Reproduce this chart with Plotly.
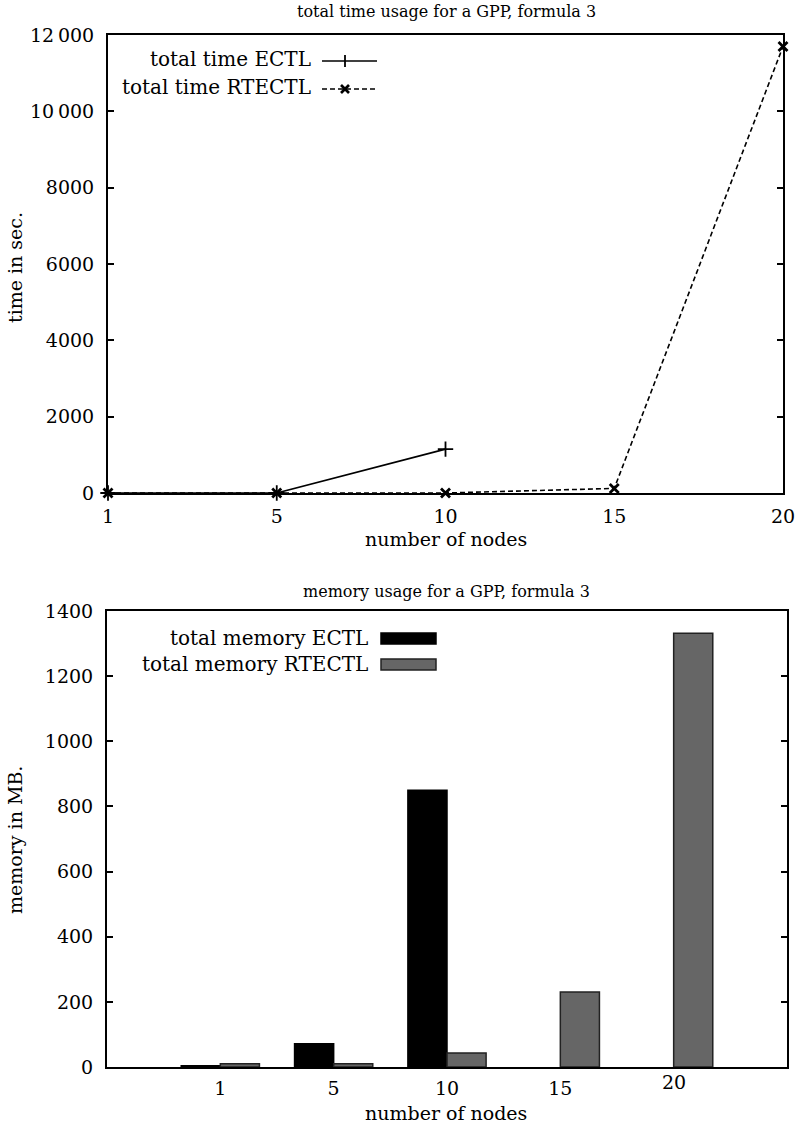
import plotly.graph_objects as go

W, H = 795, 1128

# ---------------- data ----------------
nodes = ["1", "5", "10", "15", "20"]
time_ectl = [0, 0, 1150]                 # ECTL only up to 10 nodes
time_rtectl = [0, 0, 0, 120, 11700]
time_ticks = [0, 2000, 4000, 6000, 8000, 10000, 12000]
time_tick_text = ["0", "2000", "4000", "6000", "8000", "10\u2009000", "12\u2009000"]

mem_ectl = [4, 71, 850, None, None]      # no ECTL result for 15 and 20 nodes
mem_rtectl = [10, 10, 43, 230, 1332]
mem_ticks = [0, 200, 400, 600, 800, 1000, 1200, 1400]

FONT = "DejaVu Serif"


def px(x):
    """screen pixel x -> paper fraction"""
    return x / W


def py(y):
    """screen pixel y -> paper fraction"""
    return 1 - y / H


# plot-area boxes in screen pixels
TOP = dict(l=108, r=783, t=35, b=493)
BOT = dict(l=107, r=787, t=611, b=1067)

fig = go.Figure()

# top chart: lines
fig.add_trace(go.Scatter(
    x=nodes[:len(time_ectl)], y=time_ectl, mode="lines+markers",
    name="total time ECTL", showlegend=False,
    line=dict(color="black", width=1.6),
    marker=dict(symbol="cross-thin", size=11, line=dict(color="black", width=1.8)),
    cliponaxis=False, xaxis="x", yaxis="y"))
fig.add_trace(go.Scatter(
    x=nodes, y=time_rtectl, mode="lines+markers",
    name="total time RTECTL", showlegend=False,
    line=dict(color="black", width=1.6, dash="5px,3px"),
    marker=dict(symbol="x-thin", size=9, line=dict(color="black", width=2.8)),
    cliponaxis=False, xaxis="x", yaxis="y"))

# bottom chart: bars
fig.add_trace(go.Bar(
    x=nodes, y=mem_ectl, name="total memory ECTL", showlegend=False,
    marker=dict(color="black", line=dict(color="black", width=1.5)),
    xaxis="x2", yaxis="y2"))
fig.add_trace(go.Bar(
    x=nodes, y=mem_rtectl, name="total memory RTECTL", showlegend=False,
    marker=dict(color="#666666", line=dict(color="#222222", width=1.5)),
    xaxis="x2", yaxis="y2"))

axis_common = dict(showline=True, linecolor="black", linewidth=2, mirror="ticks",
                   showgrid=False, zeroline=False, automargin=False,
                   tickfont=dict(family=FONT, size=19, color="black"))

fig.update_layout(
    template="none",
    width=W, height=H,
    margin=dict(l=0, r=0, t=0, b=0, pad=0),
    paper_bgcolor="white", plot_bgcolor="white",
    font=dict(family=FONT, size=19, color="black"),
    barmode="group", bargap=0.31, bargroupgap=0,
    xaxis=dict(domain=[px(TOP["l"]), px(TOP["r"])], anchor="y",
               type="category", range=[0, 4], ticks="",
               ticklabelstandoff=5, **axis_common),
    yaxis=dict(domain=[py(TOP["b"]), py(TOP["t"])], anchor="x",
               range=[0, 12000], tickvals=time_ticks, ticktext=time_tick_text,
               ticks="inside", ticklen=6, tickwidth=1.5, tickcolor="black",
               ticklabelstandoff=8, **axis_common),
    xaxis2=dict(domain=[px(BOT["l"]), px(BOT["r"])], anchor="y2",
                type="category", range=[-1, 5], ticks="",
                tickvals=nodes[:4], ticktext=nodes[:4],
                ticklabelstandoff=3, **axis_common),
    yaxis2=dict(domain=[py(BOT["b"]), py(BOT["t"])], anchor="x2",
                range=[0, 1400], tickvals=mem_ticks,
                ticks="inside", ticklen=6, tickwidth=1.5, tickcolor="black",
                ticklabelstandoff=8, **axis_common),
)

ann = []
TITLE_FONT = dict(family=FONT, size=16)
# titles
ann.append(dict(text="total time usage for a GPP, formula 3", x=px(446), y=py(12),
                xref="paper", yref="paper", showarrow=False,
                font=TITLE_FONT, xanchor="center", yanchor="middle"))
ann.append(dict(text="memory usage for a GPP, formula 3", x=px(446), y=py(591),
                xref="paper", yref="paper", showarrow=False,
                font=TITLE_FONT, xanchor="center", yanchor="middle"))
# axis titles
ann.append(dict(text="number of nodes", x=px(446), y=py(539), xref="paper", yref="paper",
                showarrow=False, xanchor="center", yanchor="middle"))
ann.append(dict(text="number of nodes", x=px(446), y=py(1113), xref="paper", yref="paper",
                showarrow=False, xanchor="center", yanchor="middle"))
ann.append(dict(text="time in sec.", x=px(15), y=py(268), xref="paper", yref="paper",
                showarrow=False, textangle=-90, xanchor="center", yanchor="middle"))
ann.append(dict(text="memory in MB.", x=px(15), y=py(840), xref="paper", yref="paper",
                showarrow=False, textangle=-90, xanchor="center", yanchor="middle"))
# raised "20" tick label of the bar chart (category index of "20")
ann.append(dict(text=nodes[4], x=nodes.index("20"), xref="x2", y=py(1082), yref="paper",
                showarrow=False, xanchor="center", yanchor="middle"))

# legends (text left of sample, like gnuplot)
shapes = []
LEGEND_FONT = dict(family=FONT, size=20)
# top legend
rows_top = [(59, "total time ECTL"), (87, "total time RTECTL")]
for i, (yy, label) in enumerate(rows_top):
    ann.append(dict(text=label, x=px(313), y=py(yy), xref="paper", yref="paper",
                    showarrow=False, xanchor="right", yanchor="middle", font=LEGEND_FONT))
    ly = yy + 2
    shapes.append(dict(type="line", xref="paper", yref="paper",
                       x0=px(322), x1=px(377), y0=py(ly), y1=py(ly),
                       line=dict(color="black", width=1.6,
                                 dash="solid" if i == 0 else "5px,3px")))
    if i == 0:
        shapes.append(dict(type="line", xref="paper", yref="paper",
                           x0=px(345), x1=px(345), y0=py(ly - 6), y1=py(ly + 6),
                           line=dict(color="black", width=1.8)))
    else:
        for dx0, dx1 in ((-4, 4), (4, -4)):
            shapes.append(dict(type="line", xref="paper", yref="paper",
                               x0=px(345 + dx0), x1=px(345 + dx1),
                               y0=py(ly - 4), y1=py(ly + 4),
                               line=dict(color="black", width=2.6)))
# bottom legend
rows_bot = [(638, "total memory ECTL", "black", "black"),
            (664, "total memory RTECTL", "#666666", "#222222")]
for yy, label, fill, edge in rows_bot:
    ann.append(dict(text=label, x=px(370), y=py(yy), xref="paper", yref="paper",
                    showarrow=False, xanchor="right", yanchor="middle", font=LEGEND_FONT))
    shapes.append(dict(type="rect", xref="paper", yref="paper",
                       x0=px(381), x1=px(436), y0=py(yy - 5), y1=py(yy + 6),
                       fillcolor=fill, line=dict(color=edge, width=1.5)))

fig.update_layout(annotations=ann, shapes=shapes)
# remove the default 8px body margin so the figure fills the window exactly
fig.write_html("out.html",
               config={"displayModeBar": False},
               post_script="document.body.style.margin='0';"
                           "document.body.style.overflow='hidden';")
